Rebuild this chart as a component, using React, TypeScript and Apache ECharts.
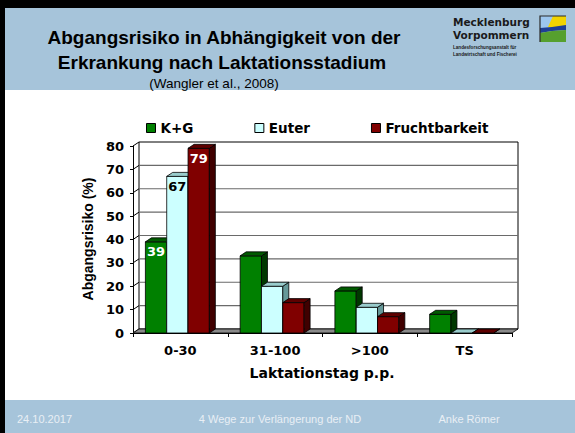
import React, { useEffect, useRef } from "react";
import * as echarts from "echarts";

// ---- data ----
const categories = ["0-30", "31-100", ">100", "TS"];
const kgValues = [39, 33, 18, 8];
const euterValues = [67, 20, 11, 0];
const fruchtValues = [79, 13, 7, 0];
const showLabels = [true, false, false, false];
const yTicks = [0, 10, 20, 30, 40, 50, 60, 70, 80];
const seriesNames = ["K+G", "Euter", "Fruchtbarkeit"];

// ---- style ----
const DX = 6;
const DY = -4;
const BAR_FRAC = 0.225;
const CHART_FONT = "DejaVu Sans";
const ARIAL = "Liberation Sans, Arial, sans-serif";
const BAND = "#A6C4DA";

const palette = [
  { front: "#008000", top: "#005a00", side: "#003800", label: "#ffffff" },
  { front: "#CCFFFF", top: "#99CCCC", side: "#669999", label: "#000000" },
  { front: "#800000", top: "#5e0000", side: "#400000", label: "#ffffff" },
];

export default function App() {
  const ref = useRef<HTMLDivElement>(null);

  useEffect(() => {
    const chart = echarts.init(ref.current as HTMLDivElement, null, { renderer: "svg" });
    const valueSets = [kgValues, euterValues, fruchtValues];

    const barSeries = valueSets.map((vals, k) => ({
      type: "custom",
      name: seriesNames[k],
      clip: false,
      itemStyle: { color: palette[k].front, borderColor: "#000", borderWidth: 1 },
      data: vals.map((v, i) => [i, v]),
      encode: { x: 0, y: 1 },
      renderItem: (params: any, api: any) => {
        const ci = api.value(0);
        const v = api.value(1);
        const topPt = api.coord([ci, v]);
        const basePt = api.coord([ci, 0]);
        const catW = api.size([1, 0])[0];
        const bw = catW * BAR_FRAC;
        const x0 = topPt[0] + (k - 1.5) * bw - DX / 2;
        const x1 = x0 + bw;
        const yT = topPt[1];
        const yB = basePt[1];
        const st = { stroke: "#000", lineWidth: 0.8 };
        const children: any[] = [
          {
            type: "polygon",
            shape: { points: [[x0, yT], [x1, yT], [x1, yB], [x0, yB]] },
            style: { ...st, fill: palette[k].front },
          },
          {
            type: "polygon",
            shape: { points: [[x1, yT], [x1 + DX, yT + DY], [x1 + DX, yB + DY], [x1, yB]] },
            style: { ...st, fill: palette[k].side },
          },
          {
            type: "polygon",
            shape: { points: [[x0, yT], [x0 + DX, yT + DY], [x1 + DX, yT + DY], [x1, yT]] },
            style: { ...st, fill: palette[k].top },
          },
        ];
        if (showLabels[ci] && v > 0) {
          children.push({
            type: "text",
            x: (x0 + x1) / 2,
            y: yT + 10,
            style: {
              text: String(v),
              fill: palette[k].label,
              fontFamily: CHART_FONT,
              fontWeight: "bold",
              fontSize: 13,
              align: "center",
              verticalAlign: "middle",
            },
          });
        }
        return { type: "group", children };
      },
    }));

    const wallSeries = {
      type: "custom",
      name: "wall",
      clip: false,
      silent: true,
      data: [[0, 0]],
      encode: { x: 0, y: 1 },
      renderItem: (params: any, api: any) => {
        const cs = params.coordSys;
        const L = cs.x;
        const R = cs.x + cs.width;
        const T = cs.y;
        const B = cs.y + cs.height;
        const children: any[] = [
          {
            type: "polygon",
            shape: { points: [[L + DX, T + DY], [R + DX, T + DY], [R + DX, B + DY], [L + DX, B + DY]] },
            style: { fill: "#fff", stroke: "#000", lineWidth: 1 },
          },
        ];
        yTicks.forEach((t) => {
          const y = api.coord([0, t])[1];
          if (t > 0 && t < 80) {
            children.push({
              type: "line",
              shape: { x1: L + DX, y1: y + DY, x2: R + DX, y2: y + DY },
              style: { stroke: "#6a6a6a", lineWidth: 1.2 },
            });
          }
          children.push({
            type: "line",
            shape: { x1: L, y1: y, x2: L + DX, y2: y + DY },
            style: { stroke: "#000", lineWidth: 1 },
          });
        });
        children.push({
          type: "polygon",
          shape: { points: [[L, B], [R, B], [R + DX, B + DY], [L + DX, B + DY]] },
          style: { fill: "#8a8a8a", stroke: "#000", lineWidth: 0.8 },
        });
        return { type: "group", children };
      },
    };

    const option: any = {
      animation: false,
      backgroundColor: "#ffffff",
      grid: { left: 133, right: 63, top: 146, bottom: 100, containLabel: false },
      legend: {
        data: seriesNames,
        left: 141,
        top: 116,
        icon: "rect",
        itemWidth: 9,
        itemHeight: 9,
        itemGap: 61,
        itemStyle: { borderColor: "#000", borderWidth: 1 },
        textStyle: { fontFamily: CHART_FONT, fontWeight: "bold", fontSize: 13.5, color: "#000" },
        selectedMode: false,
      },
      xAxis: {
        type: "category",
        data: categories,
        boundaryGap: true,
        axisLine: { show: true, lineStyle: { color: "#000", width: 1 } },
        axisTick: { show: true, length: 4, lineStyle: { color: "#000" } },
        axisLabel: {
          margin: 11,
          fontFamily: CHART_FONT,
          fontWeight: "bold",
          fontSize: 13,
          color: "#000",
        },
        splitLine: { show: false },
      },
      yAxis: {
        type: "value",
        min: 0,
        max: 80,
        interval: 10,
        axisLine: { show: true, lineStyle: { color: "#000", width: 1 } },
        axisTick: { show: true, length: 3, lineStyle: { color: "#000" } },
        axisLabel: {
          margin: 9,
          fontFamily: CHART_FONT,
          fontWeight: "bold",
          fontSize: 13,
          color: "#000",
        },
        splitLine: { show: false },
      },
      series: [wallSeries, ...barSeries],
      graphic: [
        { type: "rect", z: -10, shape: { x: 0, y: 0, width: 575, height: 8 }, style: { fill: "#000" } },
        { type: "rect", z: -10, shape: { x: 0, y: 0, width: 5, height: 433 }, style: { fill: "#000" } },
        { type: "rect", z: -10, shape: { x: 5, y: 8, width: 570, height: 82 }, style: { fill: BAND } },
        { type: "rect", z: -10, shape: { x: 5, y: 400, width: 570, height: 33 }, style: { fill: BAND } },
        {
          type: "text",
          x: 224,
          y: 37,
          style: {
            text: "Abgangsrisiko in Abhängigkeit von der",
            fontFamily: ARIAL,
            fontWeight: "bold",
            fontSize: 19,
            fill: "#000",
            align: "center",
            verticalAlign: "middle",
          },
        },
        {
          type: "text",
          x: 222,
          y: 62,
          style: {
            text: "Erkrankung nach Laktationsstadium",
            fontFamily: ARIAL,
            fontWeight: "bold",
            fontSize: 19,
            fill: "#000",
            align: "center",
            verticalAlign: "middle",
          },
        },
        {
          type: "text",
          x: 214,
          y: 83,
          style: {
            text: "(Wangler et al., 2008)",
            fontFamily: ARIAL,
            fontSize: 13.5,
            fill: "#000",
            align: "center",
            verticalAlign: "middle",
          },
        },
        // logo
        {
          type: "text",
          x: 453,
          y: 22,
          style: { text: "Mecklenburg", fontFamily: CHART_FONT, fontWeight: "bold", fontSize: 10.5, fill: "#1a1a1a", align: "left", verticalAlign: "middle" },
        },
        {
          type: "text",
          x: 453,
          y: 35,
          style: { text: "Vorpommern", fontFamily: CHART_FONT, fontWeight: "bold", fontSize: 10.5, fill: "#1a1a1a", align: "left", verticalAlign: "middle" },
        },
        {
          type: "text",
          x: 453,
          y: 47,
          style: { text: "Landesforschungsanstalt für", fontFamily: ARIAL, fontWeight: "bold", fontSize: 4.6, fill: "#1a1a1a", align: "left", verticalAlign: "middle" },
        },
        {
          type: "text",
          x: 453,
          y: 54,
          style: { text: "Landwirtschaft und Fischerei", fontFamily: ARIAL, fontWeight: "bold", fontSize: 4.6, fill: "#1a1a1a", align: "left", verticalAlign: "middle" },
        },
        { type: "polygon", shape: { points: [[540, 16], [566, 16], [566, 30], [540, 31]] }, style: { fill: "#9cc6ee" } },
        { type: "polygon", shape: { points: [[553, 16], [566, 16], [566, 29], [548, 27]] }, style: { fill: "#f2d400" } },
        { type: "polygon", shape: { points: [[540, 28], [552, 27], [566, 25], [566, 30], [552, 31], [540, 33]] }, style: { fill: "#1f3f94" } },
        { type: "polygon", shape: { points: [[540, 33], [552, 31], [566, 30], [566, 42], [540, 42]] }, style: { fill: "#56a02e" } },
        { type: "polyline", shape: { points: [[540, 42], [540, 16], [566, 16]] }, style: { stroke: "#2a2a2a", lineWidth: 1.2, fill: "none" } },
        // axis names
        {
          type: "text",
          x: 88,
          y: 239,
          rotation: Math.PI / 2,
          style: { text: "Abgangsrisiko (%)", fontFamily: ARIAL, fontWeight: "bold", fontSize: 14, fill: "#000", align: "center", verticalAlign: "middle" },
        },
        {
          type: "text",
          x: 322,
          y: 373,
          style: { text: "Laktationstag p.p.", fontFamily: CHART_FONT, fontWeight: "bold", fontSize: 14, fill: "#000", align: "center", verticalAlign: "middle" },
        },
        // footer
        {
          type: "text",
          x: 17,
          y: 419,
          style: { text: "24.10.2017", fontFamily: ARIAL, fontSize: 11, fill: "#e9eff5", align: "left", verticalAlign: "middle" },
        },
        {
          type: "text",
          x: 280,
          y: 419,
          style: { text: "4 Wege zur Verlängerung der ND", fontFamily: ARIAL, fontSize: 11, fill: "#e9eff5", align: "center", verticalAlign: "middle" },
        },
        {
          type: "text",
          x: 469,
          y: 419,
          style: { text: "Anke Römer", fontFamily: ARIAL, fontSize: 11, fill: "#e9eff5", align: "center", verticalAlign: "middle" },
        },
      ],
    };

    chart.setOption(option);
    return () => chart.dispose();
  }, []);

  return (
    <div
      ref={ref}
      style={{ position: "fixed", left: 0, top: 0, width: 575, height: 433, background: "#fff" }}
    />
  );
}
